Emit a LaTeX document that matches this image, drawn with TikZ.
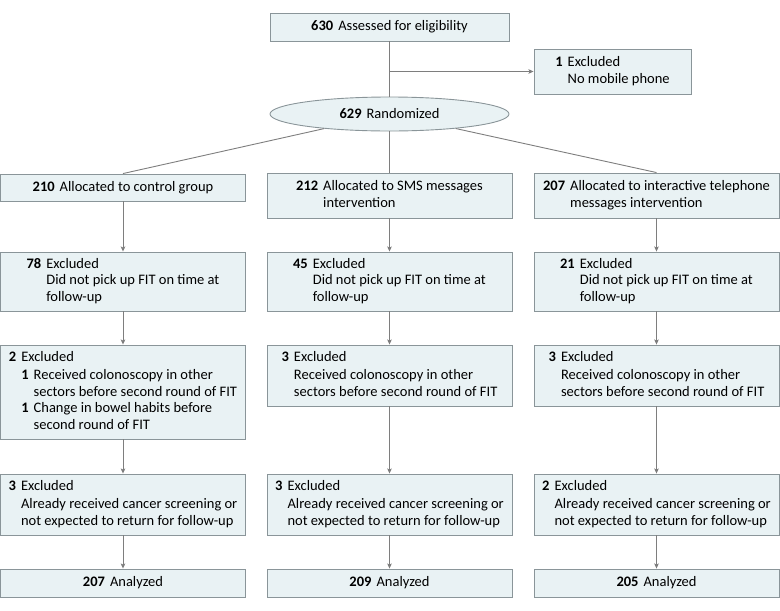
\documentclass[tikz,border=0pt]{standalone}
\usepackage{fontspec}
\setmainfont{Carlito}
\usetikzlibrary{arrows.meta,shapes.geometric}
\definecolor{boxfill}{HTML}{E9F2F4}
\definecolor{boxline}{HTML}{8A9599}
\definecolor{conn}{HTML}{7E7E7E}
\newcommand\nm[1]{\textbf{#1}}
\newenvironment{hang}{\begin{tabular}{@{}r@{\hspace{5pt}}l@{}}}{\end{tabular}}
\begin{document}
\begin{tikzpicture}[x=1pt,y=-1pt,
  box/.style={draw=boxline, fill=boxfill, line width=0.9pt, inner sep=0pt,
    font=\fontsize{14.5}{16.5}\selectfont},
  colbox/.style={box, minimum width=245pt},
  conline/.style={draw=conn, line width=0.9pt},
  arr/.style={conline, -{Stealth[length=5pt,width=4.5pt,inset=1pt]}}]
\useasboundingbox (0,0) rectangle (780,611);

% top
\node[box, minimum width=239pt, minimum height=28pt] (top) at (389.5,27)
  {\nm{630}\hspace{5pt}Assessed for eligibility};
\node[box, minimum width=157pt, minimum height=45pt] (excl) at (612.5,71.5)
  {\begin{hang}\nm{1} & Excluded\\ & No mobile phone\end{hang}};
\node[box, ellipse, minimum width=239pt, minimum height=34pt] (rand) at (389.5,114)
  {\nm{629}\hspace{5pt}Randomized};
\coordinate (br) at (389.5,71.5);

% left column
\node[colbox, minimum height=27pt] (l1) at (123,187.5)
  {\nm{210}\hspace{5pt}Allocated to control group};
\node[colbox, minimum height=59pt] (l2) at (123,281.5)
  {\begin{hang}\nm{78} & Excluded\\ & Did not pick up FIT on time at\\ & follow-up\end{hang}};
\node[colbox, minimum height=94pt] (l3) at (123,392)
  {\begin{hang}\nm{2} & Excluded\\[2pt]
   & \begin{tabular}[t]{@{}r@{\hspace{5pt}}l@{}}\nm{1} & Received colonoscopy in other\\
     & sectors before second round of FIT\\
     \nm{1} & Change in bowel habits before\\
     & second round of FIT\end{tabular}\end{hang}};
\node[colbox, minimum height=61pt] (l4) at (123,504.5)
  {\begin{hang}\nm{3} & Excluded\\[2pt] & Already received cancer screening or\\ & not expected to return for follow-up\end{hang}};
\node[colbox, minimum height=28pt] (l5) at (123,583)
  {\nm{207}\hspace{5pt}Analyzed};

% middle column
\node[colbox, minimum height=45pt] (m1) at (389.5,195.5)
  {\begin{hang}\nm{212} & Allocated to SMS messages\\ & intervention\end{hang}};
\node[colbox, minimum height=59pt] (m2) at (389.5,281.5)
  {\begin{hang}\nm{45} & Excluded\\ & Did not pick up FIT on time at\\ & follow-up\end{hang}};
\node[colbox, minimum height=61pt] (m3) at (389.5,375.5)
  {\begin{hang}\nm{3} & Excluded\\[2pt] & Received colonoscopy in other\\ & sectors before second round of FIT\end{hang}};
\node[colbox, minimum height=61pt] (m4) at (389.5,504.5)
  {\begin{hang}\nm{3} & Excluded\\[2pt] & Already received cancer screening or\\ & not expected to return for follow-up\end{hang}};
\node[colbox, minimum height=28pt] (m5) at (389.5,583)
  {\nm{209}\hspace{5pt}Analyzed};

% right column
\node[colbox, minimum height=45pt] (r1) at (656.5,195.5)
  {\begin{hang}\nm{207} & Allocated to interactive telephone\\ & messages intervention\end{hang}};
\node[colbox, minimum height=59pt] (r2) at (656.5,281.5)
  {\begin{hang}\nm{21} & Excluded\\ & Did not pick up FIT on time at\\ & follow-up\end{hang}};
\node[colbox, minimum height=61pt] (r3) at (656.5,375.5)
  {\begin{hang}\nm{3} & Excluded\\[2pt] & Received colonoscopy in other\\ & sectors before second round of FIT\end{hang}};
\node[colbox, minimum height=61pt] (r4) at (656.5,504.5)
  {\begin{hang}\nm{2} & Excluded\\[2pt] & Already received cancer screening or\\ & not expected to return for follow-up\end{hang}};
\node[colbox, minimum height=28pt] (r5) at (656.5,583)
  {\nm{205}\hspace{5pt}Analyzed};

% connectors
\draw[conline] (top.south) -- (rand.north);
\draw[arr] (br) -- (excl.west);
\draw[conline] (rand) -- (l1.north);
\draw[conline] (rand.south) -- (m1.north);
\draw[conline] (rand) -- (r1.north);
\foreach \c in {l,m,r}{
  \draw[arr] (\c1.south) -- (\c2.north);
  \draw[arr] (\c2.south) -- (\c3.north);
  \draw[arr] (\c3.south) -- (\c4.north);
  \draw[arr] (\c4.south) -- (\c5.north);
}
\end{tikzpicture}
\end{document}
